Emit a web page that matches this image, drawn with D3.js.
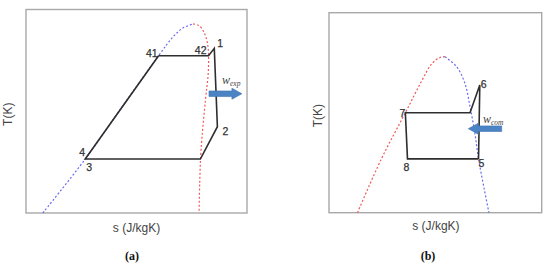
<!DOCTYPE html>
<html>
<head>
<meta charset="utf-8">
<title>T-s diagrams</title>
<script src="https://cdn.jsdelivr.net/npm/d3@7"></script>
<style>
  body { margin: 0; background: #fff; }
  text { font-family: "Liberation Sans", Arial, sans-serif; }
  text.serif { font-family: "Liberation Serif", "Times New Roman", serif; }
</style>
</head>
<body>
<svg width="550" height="268"></svg>
<script>
// data in normalised units (0-100) per panel: s = entropy, T = temperature

// panel (a) - expander cycle
var aCycle = [
  {s: 60.0, T: 77.3}, {s: 82.6, T: 77.3}, {s: 85.2, T: 80.9}, {s: 86.6, T: 42.4},
  {s: 78.9, T: 26.5}, {s: 26.8, T: 26.5}, {s: 60.0, T: 77.3}
];
var aLiquid = [
  {s: 7.6, T: 0}, {s: 26.8, T: 26.5}, {s: 43.4, T: 52.1}, {s: 60.0, T: 77.3},
  {s: 66.5, T: 86.5}, {s: 71.0, T: 90.9}, {s: 75.6, T: 92.9}
];
var aVapour = [
  {s: 75.6, T: 92.9}, {s: 78.3, T: 92.1}, {s: 80.5, T: 88.9}, {s: 82.1, T: 83.5},
  {s: 82.6, T: 77.1}, {s: 82.4, T: 67.8}, {s: 81.2, T: 55.5}, {s: 79.2, T: 31.0},
  {s: 78.6, T: 14.7}, {s: 78.3, T: 0}
];
var aLabels = [
  {t: "1", s: 85.2, T: 80.9, dx: 3, dy: -1, anchor: "start"},
  {t: "42", s: 82.6, T: 77.3, dx: -2, dy: -2, anchor: "end"},
  {t: "41", s: 60.0, T: 77.3, dx: -1, dy: 1, anchor: "end"},
  {t: "2", s: 86.6, T: 42.4, dx: 5, dy: 8, anchor: "start"},
  {t: "4", s: 26.8, T: 26.5, dx: -6, dy: -3, anchor: "start"},
  {t: "3", s: 26.8, T: 26.5, dx: 1, dy: 12, anchor: "start"}
];
var aArrow = {s0: 82.8, s1: 97.7, T: 58.6, w: "w", sub: "exp"};

// panel (b) - compressor cycle
var bCycle = [
  {s: 70.3, T: 26.9}, {s: 70.9, T: 63.9}, {s: 66.3, T: 50.0}, {s: 35.9, T: 50.0},
  {s: 36.9, T: 26.9}, {s: 70.3, T: 26.9}
];
var bLiquid = [
  {s: 13.4, T: 0}, {s: 24.4, T: 26.4}, {s: 35.9, T: 50.0}, {s: 43.6, T: 65.9},
  {s: 48.3, T: 74.4}, {s: 52.2, T: 77.6}, {s: 54.5, T: 78.0}
];
var bVapour = [
  {s: 54.5, T: 78.0}, {s: 60.0, T: 73.0}, {s: 63.9, T: 64.7}, {s: 66.3, T: 53.0},
  {s: 68.6, T: 39.7}, {s: 70.3, T: 26.9}, {s: 75.2, T: 0}
];
var bLabels = [
  {t: "6", s: 70.9, T: 63.9, dx: 1, dy: 3, anchor: "start"},
  {t: "7", s: 35.9, T: 50.0, dx: 0, dy: 4, anchor: "end"},
  {t: "8", s: 36.9, T: 26.9, dx: -4, dy: 12, anchor: "start"},
  {t: "5", s: 70.3, T: 26.9, dx: 0, dy: 8, anchor: "start"}
];
var bArrow = {s0: 81.2, s1: 65.5, T: 42.0, w: "w", sub: "com"};

var svg = d3.select("svg");

function panel(box, cycle, liquid, vapour, labels, arrow, liqColor, vapColor, tag) {
  var x = d3.scaleLinear().domain([0, 100]).range([box.x0, box.x1]);
  var y = d3.scaleLinear().domain([0, 100]).range([box.y0, box.y1]);
  var g = svg.append("g");

  g.append("rect")
    .attr("x", box.x0).attr("y", box.y1)
    .attr("width", box.x1 - box.x0).attr("height", box.y0 - box.y1)
    .attr("fill", "none").attr("stroke", "#a8a8a8").attr("stroke-width", 1.4);

  var curve = d3.line().x(d => x(d.s)).y(d => y(d.T)).curve(d3.curveCatmullRom);
  g.append("path").attr("d", curve(liquid))
    .attr("fill", "none").attr("stroke", liqColor).attr("stroke-width", 1.2)
    .attr("stroke-dasharray", "2,2");
  g.append("path").attr("d", curve(vapour))
    .attr("fill", "none").attr("stroke", vapColor).attr("stroke-width", 1.2)
    .attr("stroke-dasharray", "2,2");

  var poly = d3.line().x(d => x(d.s)).y(d => y(d.T));
  g.append("path").attr("d", poly(cycle))
    .attr("fill", "none").attr("stroke", "#2e2e2e").attr("stroke-width", 1.6)
    .attr("stroke-linejoin", "miter");

  g.selectAll(".pt").data(labels).enter().append("text")
    .attr("x", d => x(d.s) + d.dx).attr("y", d => y(d.T) + d.dy)
    .attr("text-anchor", d => d.anchor)
    .attr("font-size", 10.5).attr("fill", "#333")
    .attr("stroke", "#333").attr("stroke-width", 0.25)
    .text(d => d.t);

  // work arrow
  var xa = x(arrow.s0), xb = x(arrow.s1), ya = y(arrow.T);
  var dir = xb > xa ? 1 : -1, head = 10;
  var xh = xb - dir * head;
  g.append("path")
    .attr("d", "M" + xa + "," + (ya - 2.8) + "L" + xh + "," + (ya - 2.8) +
      "L" + xh + "," + (ya - 5.5) + "L" + xb + "," + ya +
      "L" + xh + "," + (ya + 5.5) + "L" + xh + "," + (ya + 2.8) +
      "L" + xa + "," + (ya + 2.8) + "Z")
    .attr("fill", "#4a84c4").attr("stroke", "#3f74ad").attr("stroke-width", 0.6);
  var wt = g.append("text").attr("class", "serif")
    .attr("x", box.wx).attr("y", box.wy)
    .style("font-style", "italic")
    .attr("font-size", 12).attr("fill", "#444");
  wt.append("tspan").text(arrow.w);
  wt.append("tspan").attr("font-size", 7.5).attr("dy", 1.5).text(arrow.sub);

  g.append("text")
    .attr("transform", "translate(" + box.tx + "," + ((box.y0 + box.y1) / 2 + 3) + ") rotate(-90)")
    .attr("text-anchor", "middle").attr("font-size", 12).attr("fill", "#444")
    .text("T(K)");
  g.append("text")
    .attr("x", (box.x0 + box.x1) / 2 + box.sdx).attr("y", box.sy)
    .attr("text-anchor", "middle").attr("font-size", 12).attr("fill", "#444")
    .text("s (J/kgK)");
  g.append("text").attr("class", "serif")
    .attr("x", box.tagx).attr("y", 260)
    .attr("text-anchor", "middle")
    .attr("font-weight", "bold").attr("font-size", 12).attr("fill", "#111")
    .text(tag);
}

panel({x0: 26, x1: 247, y0: 213, y1: 9.5, wx: 222, wy: 84, tx: 12, sdx: 0, sy: 232, tagx: 132},
  aCycle, aLiquid, aVapour, aLabels, aArrow, "#6a6af0", "#f05a5a", "(a)");
panel({x0: 329, x1: 541.7, y0: 212.7, y1: 12.7, wx: 483, wy: 123, tx: 322, sdx: 0.6, sy: 230, tagx: 428},
  bCycle, bLiquid, bVapour, bLabels, bArrow, "#f05a5a", "#6a6af0", "(b)");
</script>
</body>
</html>
